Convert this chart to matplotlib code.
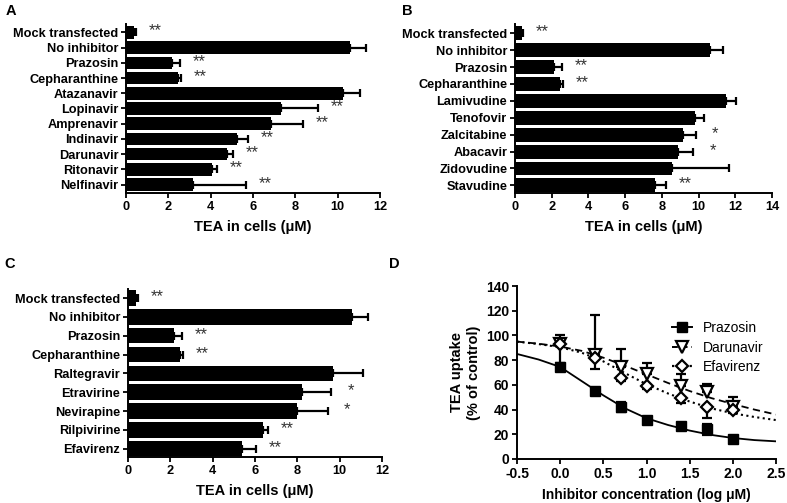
import numpy as np
import matplotlib
matplotlib.use("Agg")
import matplotlib.pyplot as plt

plt.rcParams['font.family'] = ['Liberation Sans', 'DejaVu Sans']
plt.rcParams['font.weight'] = 'bold'
plt.rcParams['axes.labelweight'] = 'bold'

# ---- data: panel A (protease inhibitors) ----
labels_a = ['Mock transfected', 'No inhibitor', 'Prazosin', 'Cepharanthine', 'Atazanavir',
            'Lopinavir', 'Amprenavir', 'Indinavir', 'Darunavir', 'Ritonavir', 'Nelfinavir']
tea_a = [0.4, 10.6, 2.15, 2.45, 10.25, 7.3, 6.85, 5.25, 4.75, 4.05, 3.15]
sd_a = [0.05, 0.75, 0.4, 0.15, 0.8, 1.75, 1.5, 0.5, 0.3, 0.25, 2.5]
stars_a = ['**', '', '**', '**', '', '**', '**', '**', '**', '**', '**']

# ---- panel B (NRTIs) ----
labels_b = ['Mock transfected', 'No inhibitor', 'Prazosin', 'Cepharanthine', 'Lamivudine',
            'Tenofovir', 'Zalcitabine', 'Abacavir', 'Zidovudine', 'Stavudine']
tea_b = [0.4, 10.6, 2.15, 2.45, 11.5, 9.8, 9.15, 8.9, 8.55, 7.65]
sd_b = [0.05, 0.75, 0.4, 0.15, 0.55, 0.5, 0.7, 0.8, 3.1, 0.55]
stars_b = ['**', '', '**', '**', '', '', '*', '*', '', '**']

# ---- panel C (NNRTIs / integrase) ----
labels_c = ['Mock transfected', 'No inhibitor', 'Prazosin', 'Cepharanthine', 'Raltegravir',
            'Etravirine', 'Nevirapine', 'Rilpivirine', 'Efavirenz']
tea_c = [0.4, 10.6, 2.15, 2.45, 9.7, 8.2, 8.0, 6.4, 5.4]
sd_c = [0.05, 0.75, 0.4, 0.15, 1.4, 1.4, 1.45, 0.2, 0.65]
stars_c = ['**', '', '**', '**', '', '*', '*', '**', '**']

# ---- panel D (dose response) ----
log_conc = [0.0, 0.4, 0.7, 1.0, 1.4, 1.7, 2.0]
prazosin = [74.5, 55, 42, 31.5, 26.5, 24, 16.5]
prazosin_err = [3, 1, 4, 1.5, 3, 4.5, 1]
darunavir = [93, 84, 74.5, 69, 59, 54, 42]
darunavir_err = [7, 32.5, 14.5, 9, 10, 7, 8.5]
efavirenz = [93, 81.5, 65.5, 59, 49, 42, 39.5]
efavirenz_err = [18, 9, 2, 2, 3.5, 9, 2.5]

# fitted curves
fit_x = [-0.5, -0.25, 0.0, 0.25, 0.5, 0.75, 1.0, 1.25, 1.5, 1.75, 2.0, 2.25, 2.5]
fit_prazosin = [85, 80.5, 74.5, 63, 51.5, 41, 33, 27.5, 23, 19.5, 17, 15.3, 14.3]
fit_darunavir = [95, 93.3, 91, 87.5, 82, 75.5, 68.5, 61.5, 55, 49.3, 44.5, 40, 36]
fit_efavirenz = [95, 93, 90.5, 86, 79, 69.5, 60.5, 53, 46.5, 41, 37, 34, 31.5]

W, H = 787, 503
fig = plt.figure(figsize=(W / 100, H / 100), dpi=100)


def px_axes(left, top, right, bottom):
    return fig.add_axes([left / W, 1 - bottom / H, (right - left) / W, (bottom - top) / H])


def style_axes(ax, size=9.2):
    for s in ['top', 'right']:
        ax.spines[s].set_visible(False)
    for s in ['left', 'bottom']:
        ax.spines[s].set_linewidth(1.4)
    ax.tick_params(width=1.3, length=3.5, labelsize=size, pad=2)


def bar_panel(ax, labels, vals, sds, stars, xmax, pad_top, pad_bot):
    y = np.arange(len(labels))
    ax.barh(y, vals, height=0.82, color='black')
    ax.errorbar(vals, y, xerr=[np.zeros(len(sds)), sds], fmt='none', ecolor='black',
                elinewidth=1.6, capsize=3, capthick=1.6)
    for i, st in enumerate(stars):
        if st:
            ax.annotate(st, (vals[i] + sds[i], i), xytext=(14, 1), textcoords='offset points',
                        ha='center', va='center', fontsize=12, fontweight='normal', color='#333333')
    ax.set_yticks(y)
    ax.set_yticklabels(labels)
    ax.set_ylim(len(labels) - 1 + pad_bot, -pad_top)
    ax.set_xlim(0, xmax)
    ax.set_xticks(np.arange(0, xmax + 1, 2))
    ax.set_xlabel('TEA in cells (μM)', fontsize=10.5, labelpad=5)
    style_axes(ax)


ax_a = px_axes(126, 24, 380, 193)
bar_panel(ax_a, labels_a, tea_a, sd_a, stars_a, 12, 0.55, 0.55)

ax_b = px_axes(515, 24, 772, 193)
bar_panel(ax_b, labels_b, tea_b, sd_b, stars_b, 14, 0.55, 0.45)

ax_c = px_axes(128, 289, 382, 457)
bar_panel(ax_c, labels_c, tea_c, sd_c, stars_c, 12, 0.48, 0.44)

# ---- panel D ----
ax_d = px_axes(517, 286, 776, 459)
ax_d.plot(fit_x, fit_prazosin, '-', color='black', lw=1.3)
ax_d.plot(fit_x, fit_darunavir, '--', color='black', lw=1.3, dashes=(4, 2.5))
ax_d.plot(fit_x, fit_efavirenz, ':', color='black', lw=1.5)

ax_d.errorbar(log_conc, prazosin, yerr=prazosin_err, fmt='none', ecolor='black',
              elinewidth=1.6, capsize=3.5, capthick=1.6)
ax_d.errorbar(log_conc, darunavir, yerr=[np.zeros(len(darunavir_err)), darunavir_err], fmt='none',
              ecolor='black', elinewidth=1.6, capsize=3.5, capthick=1.6)
ax_d.errorbar(log_conc, efavirenz, yerr=[efavirenz_err, np.zeros(len(efavirenz_err))], fmt='none',
              ecolor='black', elinewidth=1.6, capsize=3.5, capthick=1.6)

ax_d.plot(log_conc, prazosin, 's', color='black', ms=6.5)
ax_d.plot(log_conc, darunavir, 'v', mfc='white', mec='black', mew=1.6, ms=8)
ax_d.plot(log_conc, efavirenz, 'D', mfc='white', mec='black', mew=1.6, ms=6.5)

# legend proxies
h1, = ax_d.plot([], [], '-s', color='black', ms=6.5, lw=1.4)
h2, = ax_d.plot([], [], '--v', color='black', mfc='white', mew=1.6, ms=8, lw=1.4, dashes=(3, 2))
h3, = ax_d.plot([], [], ':D', color='black', mfc='white', mew=1.6, ms=6.5, lw=1.6)
leg = ax_d.legend([h1, h2, h3], ['Prazosin', 'Darunavir', 'Efavirenz'], loc='upper right',
                  bbox_to_anchor=(1.0, 0.87), frameon=False, handlelength=1.4,
                  handletextpad=0.8, labelspacing=0.4, prop={'size': 10, 'weight': 'normal'})

ax_d.set_xlim(-0.5, 2.5)
ax_d.set_ylim(0, 140)
ax_d.set_xticks(np.arange(-0.5, 2.51, 0.5))
ax_d.set_xticklabels(['%.1f' % v for v in np.arange(-0.5, 2.51, 0.5)])
ax_d.set_yticks(np.arange(0, 141, 20))
ax_d.set_xlabel('Inhibitor concentration (log μM)', fontsize=10, labelpad=5)
ax_d.set_ylabel('TEA uptake\n(% of control)', fontsize=10.5, labelpad=4)
style_axes(ax_d, size=10)

# panel letters
for letter, x, y in [('A', 11, 11), ('B', 407, 11), ('C', 10, 264), ('D', 394, 264)]:
    fig.text(x / W, 1 - y / H, letter, fontsize=10.5, fontweight='bold', ha='center', va='center')

fig.savefig('out.png', dpi=100)
